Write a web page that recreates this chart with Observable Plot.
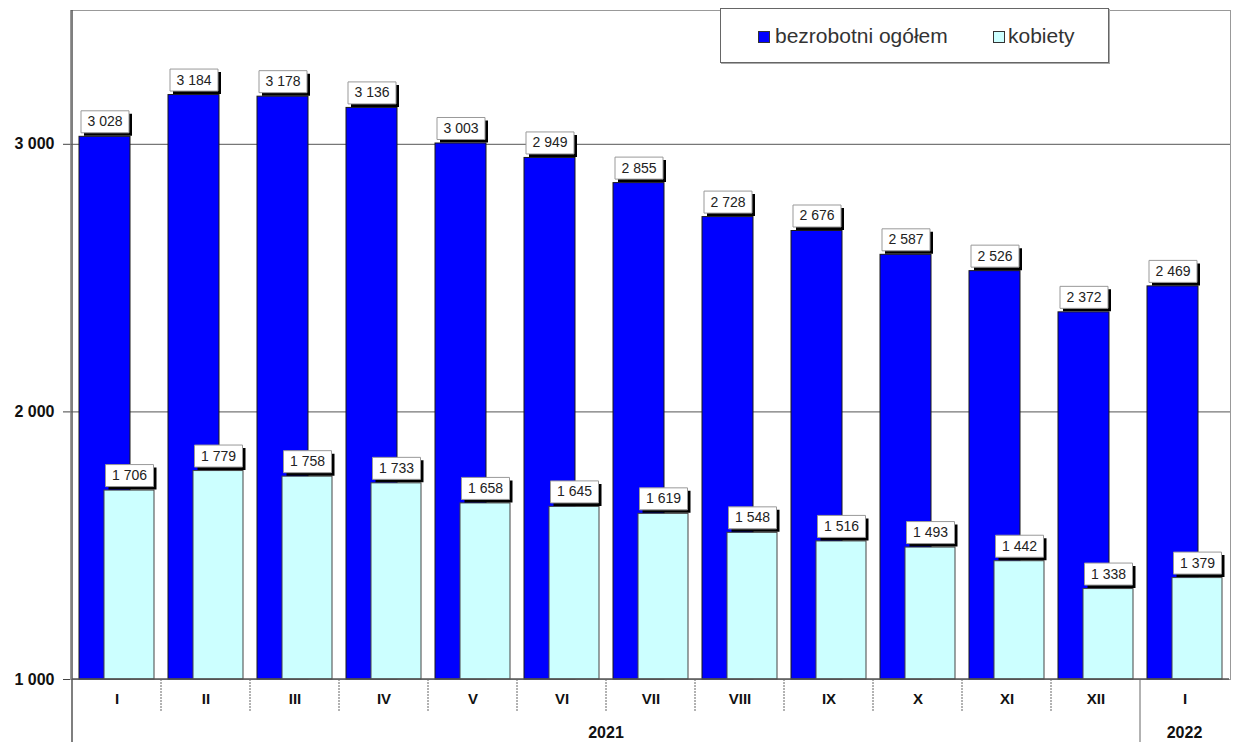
<!DOCTYPE html>
<html>
<head>
<meta charset="utf-8">
<script src="https://cdn.jsdelivr.net/npm/d3@7"></script>
<script src="https://cdn.jsdelivr.net/npm/@observablehq/plot@0.6"></script>
<style>
  html, body { margin: 0; padding: 0; background: #fff; }
  #wrap { position: relative; width: 1233px; height: 742px; font-family: "Liberation Sans", Arial, sans-serif; }
  #legend { position: absolute; left: 720px; top: 8px; width: 389px; height: 55px; background: #fff;
            border: 1px solid #666; box-shadow: 1px 1px 0 #aaa; box-sizing: border-box; }
  .sw { position: absolute; width: 12px; height: 12px; box-sizing: border-box; border: 1px solid #333; }
  .lt { position: absolute; font-size: 21px; color: #333; line-height: 1; white-space: nowrap; }
</style>
</head>
<body>
<div id="wrap">
  <div id="chart"></div>
  <div id="legend">
    <div class="sw" style="left:37px;top:22px;background:#0000ff;"></div>
    <div class="lt" id="lt1" style="left:54px;top:16px;"></div>
    <div class="sw" style="left:272px;top:22px;background:#ccffff;"></div>
    <div class="lt" id="lt2" style="left:287px;top:16px;"></div>
  </div>
</div>
<script>
const periods = ["I 2021","II 2021","III 2021","IV 2021","V 2021","VI 2021","VII 2021","VIII 2021","IX 2021","X 2021","XI 2021","XII 2021","I 2022"];
const monthLabels = ["I","II","III","IV","V","VI","VII","VIII","IX","X","XI","XII","I"];
const yearLabels = ["2021","2022"];
const seriesNames = ["bezrobotni ogółem","kobiety"];
const totalValues = [3028, 3184, 3178, 3136, 3003, 2949, 2855, 2728, 2676, 2587, 2526, 2372, 2469];
const womenValues = [1706, 1779, 1758, 1733, 1658, 1645, 1619, 1548, 1516, 1493, 1442, 1338, 1379];
const yTicks = [1000, 2000, 3000];

document.getElementById("lt1").textContent = seriesNames[0];
document.getElementById("lt2").textContent = seriesNames[1];

const data = periods.map((p, i) => ({period: p, month: monthLabels[i], total: totalValues[i], women: womenValues[i]}));
const fmt = v => String(v).replace(/\B(?=(\d{3})+(?!\d))/g, " ");

const boxSymbol = { draw(ctx) { ctx.moveTo(-24, -11); ctx.lineTo(24, -11); ctx.lineTo(24, 11); ctx.lineTo(-24, 11); ctx.closePath(); } };

const font = "'Liberation Sans', Arial, sans-serif";
const labelMarks = (key, dx) => [
  Plot.dot(data, {x: "period", y: key, symbol: boxSymbol, r: 1, fill: "#000", stroke: "none", dx: dx + 3, dy: -15 + 3}),
  Plot.dot(data, {x: "period", y: key, symbol: boxSymbol, r: 1, fill: "#fff", stroke: "#999", strokeWidth: 1, dx: dx, dy: -15}),
  Plot.text(data, {x: "period", y: key, text: d => fmt(d[key]), dx: dx, dy: -15, fontSize: 14, fill: "#222", fontFamily: font})
];

const plot = Plot.plot({
  width: 1233,
  height: 742,
  marginLeft: 70,
  marginRight: 3,
  marginTop: 10,
  marginBottom: 63,
  style: {fontFamily: font, background: "#fff"},
  x: {type: "band", domain: periods, padding: 0, axis: null, label: null},
  y: {domain: [1000, 3500], axis: null, label: null},
  marks: [
    Plot.frame({stroke: "#999"}),
    Plot.ruleY([2000, 3000], {stroke: "#777", strokeWidth: 1.3}),
    Plot.barY(data, {x: "period", y1: 1000, y2: "total", fill: "#0000ff", stroke: "#1a1a1a", strokeWidth: 1, insetLeft: 7, insetRight: 31}),
    Plot.barY(data, {x: "period", y1: 1000, y2: "women", fill: "#ccffff", stroke: "#444", strokeWidth: 1, insetLeft: 32, insetRight: 7}),
    ...labelMarks("total", -12),
    ...labelMarks("women", 12.5),
    Plot.axisY({ticks: yTicks, tickFormat: fmt, tickSize: 7, tickPadding: 9, fontSize: 16, fontWeight: "bold", fill: "#111", stroke: "#444", label: null}),
    Plot.axisX({tickSize: 0, tickPadding: 14, tickFormat: (d) => monthLabels[periods.indexOf(d)], fontSize: 15, fontWeight: "bold", fill: "#111", label: null})
  ]
});
document.getElementById("chart").appendChild(plot);

// decorations using the plot's own scales
const xs = plot.scale("x"), ys = plot.scale("y");
const bw = xs.bandwidth;
const y0 = ys.apply(1000);
const svg = d3.select(plot);
const g = svg.append("g");
const left = xs.apply(periods[0]);
const right = xs.apply(periods[periods.length - 1]) + bw;
// bottom axis line
g.append("line").attr("x1", left).attr("x2", right).attr("y1", y0).attr("y2", y0).attr("stroke", "#555").attr("stroke-width", 1.5);
// left axis line extending through category area
g.append("line").attr("x1", left).attr("x2", left).attr("y1", ys.apply(3500)).attr("y2", 742).attr("stroke", "#555").attr("stroke-width", 1.5);
// month separators
periods.slice(1).forEach(p => {
  const xx = xs.apply(p);
  const isYear = p === "I 2022";
  g.append("line").attr("x1", xx).attr("x2", xx).attr("y1", y0).attr("y2", isYear ? 742 : y0 + 33)
    .attr("stroke", "#666").attr("stroke-width", 1).attr("stroke-dasharray", isYear ? null : "2,1");
});
// year labels
const yearSpans = [[periods[0], periods[11]], [periods[12], periods[12]]];
yearSpans.forEach(([a, b], i) => {
  const cx = (xs.apply(a) + xs.apply(b) + bw) / 2;
  g.append("text").attr("x", cx).attr("y", 738).attr("text-anchor", "middle")
    .attr("font-size", 16).attr("font-weight", "bold").attr("fill", "#111").attr("font-family", font).text(yearLabels[i]);
});
</script>
</body>
</html>
